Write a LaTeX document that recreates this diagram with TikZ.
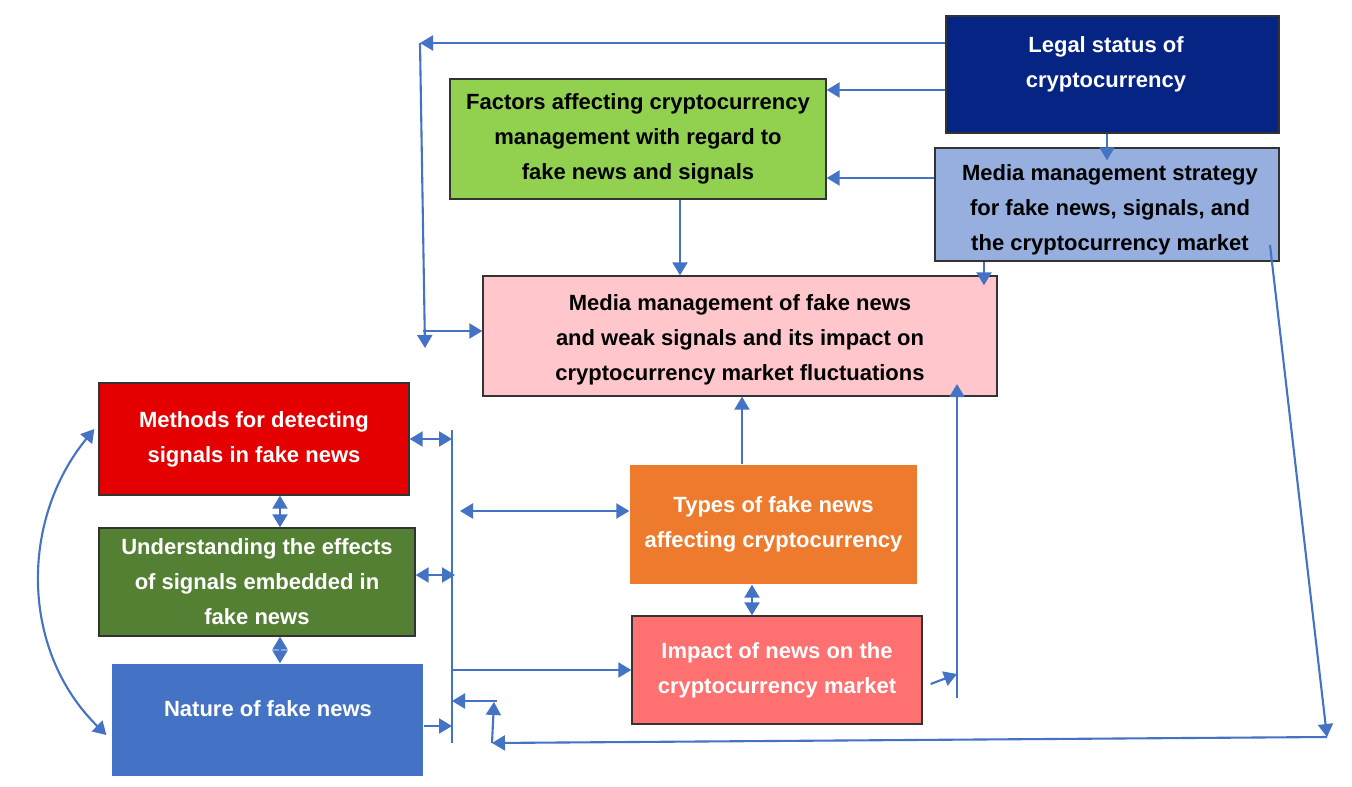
\documentclass[tikz,border=0pt]{standalone}
\usepackage{fontspec}
\setmainfont{Liberation Sans}
\usetikzlibrary{arrows.meta}

\definecolor{legalblue}{RGB}{6,36,132}
\definecolor{factorgreen}{RGB}{146,208,80}
\definecolor{strategyblue}{RGB}{150,175,222}
\definecolor{mediapink}{RGB}{255,199,204}
\definecolor{methodsred}{RGB}{228,0,0}
\definecolor{effectsgreen}{RGB}{84,128,52}
\definecolor{natureblue}{RGB}{68,114,196}
\definecolor{typesorange}{RGB}{237,122,45}
\definecolor{impactred}{RGB}{255,112,112}
\definecolor{linkblue}{RGB}{68,114,196}

\begin{document}
\begin{tikzpicture}[
  x=1pt,y=-1pt,
  box/.style={rectangle,draw=black!80,line width=1.3pt,align=center,inner sep=0pt,
    font=\fontsize{22}{35}\selectfont\bfseries},
  caption/.style={align=center,inner sep=0pt,font=\fontsize{22}{35}\selectfont\bfseries},
  flow/.style={draw=linkblue,line width=2.1pt,-{Triangle[width=15pt,length=13pt]}},
  both/.style={flow,{Triangle[width=15pt,length=13pt]}-{Triangle[width=15pt,length=13pt]}},
  bus/.style={draw=linkblue,line width=2.1pt},
  ]
  \useasboundingbox[fill=white] (0,0) rectangle (1352,787);

  % boxes
  \node[box,fill=legalblue,minimum width=333,minimum height=117] (legal) at (1112.5,74.5) {};
  \node[caption,text=white] (legaltext) at (1106,64) {Legal status of\\ cryptocurrency};
  \node[box,fill=factorgreen,minimum width=376,minimum height=120] (factors) at (638,139) {Factors affecting cryptocurrency\\ management with regard to\\ fake news and signals};
  \node[box,fill=strategyblue,minimum width=344,minimum height=113] (strategy) at (1107,204.5) {};
  \node[caption] (strategytext) at (1110,210) {Media management strategy\\ for fake news, signals, and\\ the cryptocurrency market};
  \node[box,fill=mediapink,minimum width=514,minimum height=120] (media) at (740,336) {};
  \node[caption] (mediatext) at (740,340) {Media management of fake news\\ and weak signals and its impact on\\ cryptocurrency market fluctuations};
  \node[box,fill=methodsred,text=white,minimum width=310,minimum height=112] (methods) at (254,439) {Methods for detecting\\ signals in fake news};
  \node[box,fill=effectsgreen,text=white,minimum width=316,minimum height=108] (effects) at (257,582) {Understanding the effects\\ of signals embedded in\\ fake news};
  \node[box,draw=none,fill=natureblue,minimum width=311,minimum height=112] (nature) at (267.5,720) {};
  \node[caption,text=white] (naturetext) at (268,709) {Nature of fake news};
  \node[box,draw=none,fill=typesorange,text=white,minimum width=287,minimum height=119] (types) at (773.5,524.5) {Types of fake news\\ affecting cryptocurrency};
  \node[box,fill=impactred,text=white,minimum width=290,minimum height=108] (impact) at (777,670) {Impact of news on the\\ cryptocurrency market};

  % top left loop from legal status
  \coordinate (ltop) at (420,43);
  \coordinate (lbot) at (425,348);
  \coordinate (lmid) at (423,331);
  \draw[flow] (legal.west |- ltop) -- (ltop);
  \draw[flow] (ltop) -- (lbot);
  \draw[flow] (lmid) -- (media.west |- lmid);

  % into factors
  \coordinate (lf) at (0,90);
  \coordinate (sf) at (0,178);
  \draw[flow] (legal.west |- lf) -- (factors.east |- lf);
  \draw[flow] (strategy.west |- sf) -- (factors.east |- sf);
  \coordinate (lx) at (1107,0);
  \draw[flow,shorten >=-13pt] (legal.south -| lx) -- (strategy.north -| lx);
  \coordinate (fx) at (680,0);
  \coordinate (sx) at (984,0);
  \draw[flow] (factors.south -| fx) -- (media.north -| fx);
  \draw[flow,shorten >=-10pt] (strategy.south -| sx) -- (media.north -| sx);

  % long return from strategy
  \coordinate (sr) at (1270,245);
  \coordinate (rb) at (1327,737);
  \coordinate (bl) at (492,743);
  \coordinate (bu) at (494,702);
  \coordinate (bk) at (497,701);
  \draw[flow] (sr) -- (rb);
  \draw[flow] (rb) -- (bl);
  \draw[flow] (bl) -- (bu);

  % left bus
  \coordinate (bus1) at (452,430);
  \coordinate (bus2) at (452,743);
  \draw[bus] (bus1) -- (bus2);
  \draw[flow] (bk) -- (bus1 |- bk);
  \coordinate (mb) at (0,439);
  \coordinate (tb) at (460,511);
  \coordinate (eb) at (455,575);
  \coordinate (ib) at (452,670);
  \coordinate (nb) at (452,726);
  \draw[both] (methods.east |- mb) -- (bus1 |- mb);
  \draw[both] (tb) -- (types.west |- tb);
  \draw[both] (effects.east |- eb) -- (eb);
  \draw[flow] (ib) -- (impact.west |- ib);
  \draw[flow] (nature.east |- nb) -- (nb);

  % left column
  \coordinate (vx) at (280,0);
  \draw[both] (methods.south -| vx) -- (effects.north -| vx);
  \draw[both] (effects.south -| vx) -- (nature.north -| vx);
  \draw[both] ([xshift=-4pt,yshift=10pt]methods.west) .. controls (20,520) and (20,650) .. ([xshift=-5pt,yshift=-15pt]nature.west);

  % right column
  \coordinate (tx) at (742,0);
  \coordinate (ix) at (752,0);
  \draw[flow] (types.north -| tx) -- (media.south -| tx);
  \draw[both] (types.south -| ix) -- (impact.north -| ix);
  \coordinate (rv1) at (957,698);
  \coordinate (rv2) at (957,384);
  \coordinate (ie) at (957,674);
  \draw[flow] (rv1) -- (rv2);
  \draw[flow] ([xshift=8pt,yshift=-14pt]impact.east) -- (ie);
\end{tikzpicture}
\end{document}
